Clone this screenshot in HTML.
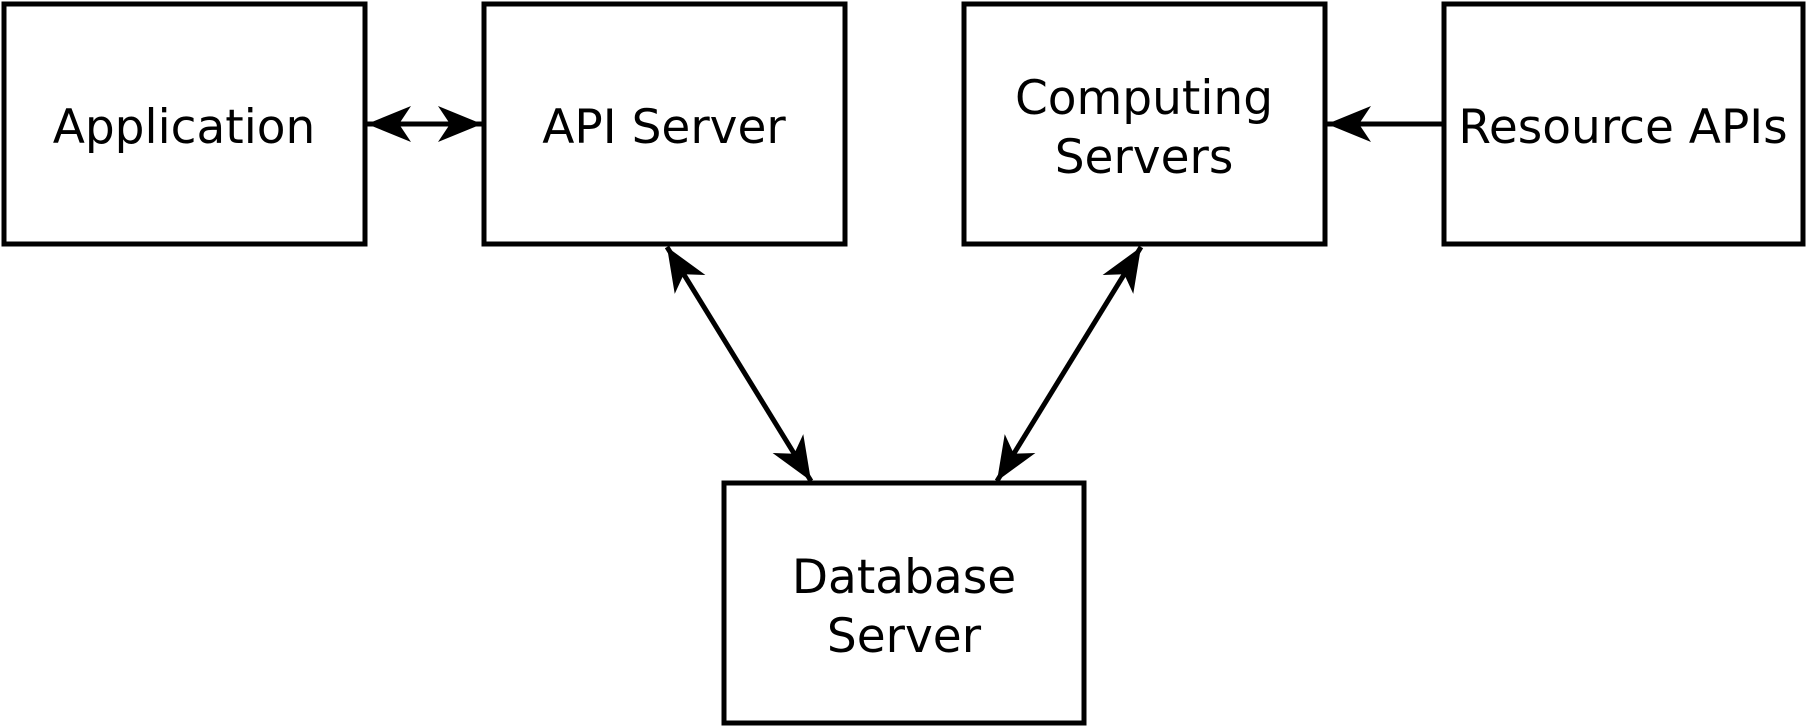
<!DOCTYPE html>
<html><head><meta charset="utf-8"><style>
html,body{margin:0;padding:0;background:#fff;}
svg{display:block;}
text{font-family:"DejaVu Sans","Liberation Sans",sans-serif;font-size:47px;fill:#000;text-anchor:middle;}
</style></head><body>
<svg width="1806" height="726" viewBox="0 0 1806 726" xmlns="http://www.w3.org/2000/svg">
<defs>
<marker id="a" markerUnits="userSpaceOnUse" markerWidth="60" markerHeight="50" refX="0" refY="0" viewBox="-50 -25 60 50" orient="auto-start-reverse" overflow="visible">
<path d="M0,0 L-44,-18 L-32,0 L-44,18 Z" fill="#000"/>
</marker>
</defs>
<g fill="#fff" stroke="#000" stroke-width="5">
<rect x="4" y="4" width="361" height="240"/>
<rect x="484" y="4" width="361" height="240"/>
<rect x="964" y="4" width="361" height="240"/>
<rect x="1444" y="4" width="359" height="240"/>
<rect x="724" y="483" width="360" height="240"/>
</g>
<g stroke="#000" stroke-width="5" fill="none">
<line x1="367" y1="124" x2="482" y2="124" marker-start="url(#a)" marker-end="url(#a)"/>
<line x1="1444" y1="124" x2="1327" y2="124" marker-end="url(#a)"/>
<line x1="667" y1="247" x2="811" y2="481" marker-start="url(#a)" marker-end="url(#a)"/>
<line x1="1141" y1="247" x2="997" y2="481" marker-start="url(#a)" marker-end="url(#a)"/>
</g>
<text x="184" y="143">Application</text>
<text x="664" y="143">API Server</text>
<text x="1144" y="114">Computing</text>
<text x="1144" y="173">Servers</text>
<text x="1623" y="143">Resource APIs</text>
<text x="904" y="593">Database</text>
<text x="904" y="652">Server</text>
</svg>
</body></html>
